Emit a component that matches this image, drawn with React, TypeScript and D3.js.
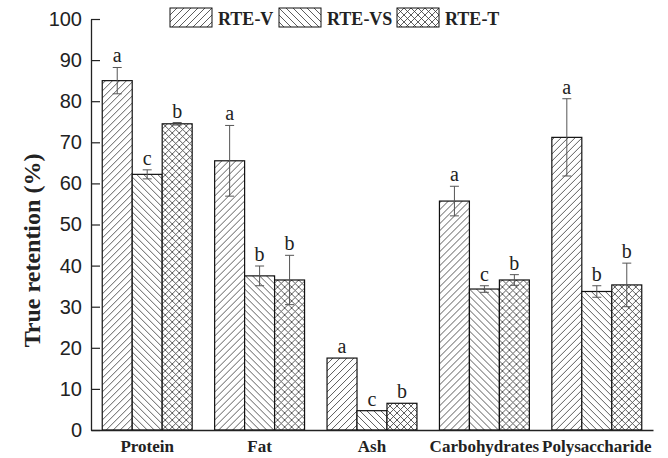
import * as d3 from "d3";
import * as React from "react";

const categories = ["Protein", "Fat", "Ash", "Carbohydrates", "Polysaccharide"];
const seriesNames = ["RTE-V", "RTE-VS", "RTE-T"];

const rteV = [85.0, 65.5, 17.5, 55.7, 71.2];
const rteVErr = [3.2, 8.6, 0, 3.6, 9.4];
const rteVLetters = ["a", "a", "a", "a", "a"];

const rteVS = [62.2, 37.5, 4.7, 34.3, 33.7];
const rteVSErr = [1.1, 2.4, 0, 0.8, 1.4];
const rteVSLetters = ["c", "b", "c", "c", "b"];

const rteT = [74.5, 36.5, 6.5, 36.5, 35.3];
const rteTErr = [0.3, 6.0, 0, 1.3, 5.3];
const rteTLetters = ["b", "b", "b", "b", "b"];

const yTicks = [0, 10, 20, 30, 40, 50, 60, 70, 80, 90, 100];

const SERIF = "'Liberation Serif', 'Times New Roman', serif";
const SANS = "'Liberation Sans', Arial, sans-serif";

export default function App() {
  const ref = React.useRef<SVGSVGElement>(null);

  React.useEffect(() => {
    const width = 668;
    const height = 458;
    const svg = d3.select(ref.current);
    svg.selectAll("*").remove();
    svg.attr("width", width).attr("height", height);

    // hatch patterns
    const defs = svg.append("defs");
    const hatch = (id: string, size: number, d: string) => {
      const p = defs.append("pattern")
        .attr("id", id)
        .attr("patternUnits", "userSpaceOnUse")
        .attr("width", size)
        .attr("height", size);
      p.append("rect").attr("width", size).attr("height", size).attr("fill", "#fff");
      p.append("path").attr("d", d).attr("stroke", "#333").attr("stroke-width", 0.8).attr("fill", "none");
    };
    const s = 7;
    const fwd = `M0,${s} L${s},0 M${-s / 2},${s / 2} L${s / 2},${-s / 2} M${s / 2},${s * 1.5} L${s * 1.5},${s / 2}`;
    const back = `M0,0 L${s},${s} M${-s / 2},${s / 2} L${s / 2},${s * 1.5} M${s / 2},${-s / 2} L${s * 1.5},${s / 2}`;
    hatch("p-v", s, fwd);
    hatch("p-vs", s, back);
    hatch("p-t", s, fwd + " " + back);
    const fills = ["url(#p-v)", "url(#p-vs)", "url(#p-t)"];

    const table = categories.map((c, i) => ({
      name: c,
      values: [
        { key: seriesNames[0], value: rteV[i], err: rteVErr[i], letter: rteVLetters[i] },
        { key: seriesNames[1], value: rteVS[i], err: rteVSErr[i], letter: rteVSLetters[i] },
        { key: seriesNames[2], value: rteT[i], err: rteTErr[i], letter: rteTLetters[i] },
      ],
    }));

    const x0 = d3.scaleBand()
      .domain(categories)
      .range([91, 653])
      .paddingInner(0.2)
      .paddingOuter(0.1);

    const x1 = d3.scaleBand()
      .domain(seriesNames)
      .range([0, x0.bandwidth()])
      .padding(0);

    const y = d3.scaleLinear().domain([0, 100]).range([430, 19]);

    const groups = svg.append("g")
      .selectAll("g")
      .data(table)
      .join("g")
      .attr("transform", d => `translate(${x0(d.name)},0)`);

    groups.selectAll("rect")
      .data(d => d.values)
      .join("rect")
      .attr("x", d => x1(d.key)!)
      .attr("y", d => y(d.value))
      .attr("width", x1.bandwidth())
      .attr("height", d => y(0) - y(d.value))
      .attr("fill", (d, i) => fills[i])
      .attr("stroke", "#111")
      .attr("stroke-width", 1.2);

    // error bars
    const eb = groups.selectAll("g.err")
      .data(d => d.values.filter(v => v.err > 0))
      .join("g")
      .attr("class", "err")
      .attr("stroke", "#555")
      .attr("stroke-width", 1);
    const cx = (d: any) => x1(d.key)! + x1.bandwidth() / 2;
    eb.append("line")
      .attr("x1", cx).attr("x2", cx)
      .attr("y1", d => y(d.value + d.err))
      .attr("y2", d => y(d.value - d.err));
    eb.append("line")
      .attr("x1", d => cx(d) - 4.5).attr("x2", d => cx(d) + 4.5)
      .attr("y1", d => y(d.value + d.err)).attr("y2", d => y(d.value + d.err));
    eb.append("line")
      .attr("x1", d => cx(d) - 4.5).attr("x2", d => cx(d) + 4.5)
      .attr("y1", d => y(d.value - d.err)).attr("y2", d => y(d.value - d.err));

    // significance letters
    groups.selectAll("text.sig")
      .data(d => d.values)
      .join("text")
      .attr("class", "sig")
      .attr("x", d => x1(d.key)! + x1.bandwidth() / 2)
      .attr("y", d => y(d.value + d.err) - 5)
      .attr("text-anchor", "middle")
      .attr("font-family", SERIF)
      .attr("font-size", 20)
      .attr("fill", "#222")
      .text(d => d.letter);

    // axes
    svg.append("g")
      .attr("transform", "translate(0,430)")
      .call(d3.axisBottom(x0).tickSize(0).tickSizeOuter(0).tickPadding(10))
      .call(g => g.select(".domain").attr("stroke", "#222").attr("stroke-width", 1.3))
      .call(g => g.selectAll(".tick text")
        .attr("font-family", SERIF)
        .attr("font-weight", "bold")
        .attr("font-size", 17)
        .attr("fill", "#222"));

    svg.append("g")
      .attr("transform", "translate(91,0)")
      .call(d3.axisLeft(y).tickValues(yTicks).tickSize(-9).tickSizeOuter(0).tickPadding(9))
      .call(g => g.select(".domain").attr("stroke", "#222").attr("stroke-width", 1.3))
      .call(g => g.selectAll(".tick line").attr("stroke", "#222").attr("stroke-width", 1.2))
      .call(g => g.selectAll(".tick text")
        .attr("font-family", SANS)
        .attr("font-size", 20)
        .attr("fill", "#222"));

    svg.append("text")
      .attr("transform", `translate(40,${(y(0) + y(100)) / 2 + 26}) rotate(-90)`)
      .attr("text-anchor", "middle")
      .attr("font-family", SERIF)
      .attr("font-weight", "bold")
      .attr("font-size", 24)
      .attr("fill", "#222")
      .text("True retention (%)");

    // legend
    const legendX = [170, 279, 397];
    const legend = svg.append("g")
      .selectAll("g")
      .data(seriesNames)
      .join("g")
      .attr("transform", (d, i) => `translate(${legendX[i]},8)`);
    legend.append("rect")
      .attr("width", 42)
      .attr("height", 19)
      .attr("fill", (d, i) => fills[i])
      .attr("stroke", "#111")
      .attr("stroke-width", 1);
    legend.append("text")
      .attr("x", 48)
      .attr("y", 17)
      .attr("font-family", SERIF)
      .attr("font-weight", "bold")
      .attr("font-size", 18)
      .attr("fill", "#222")
      .text(d => d);
  }, []);

  return (
    <svg ref={ref} style={{ position: "absolute", left: 0, top: 0 }}></svg>
  );
}
